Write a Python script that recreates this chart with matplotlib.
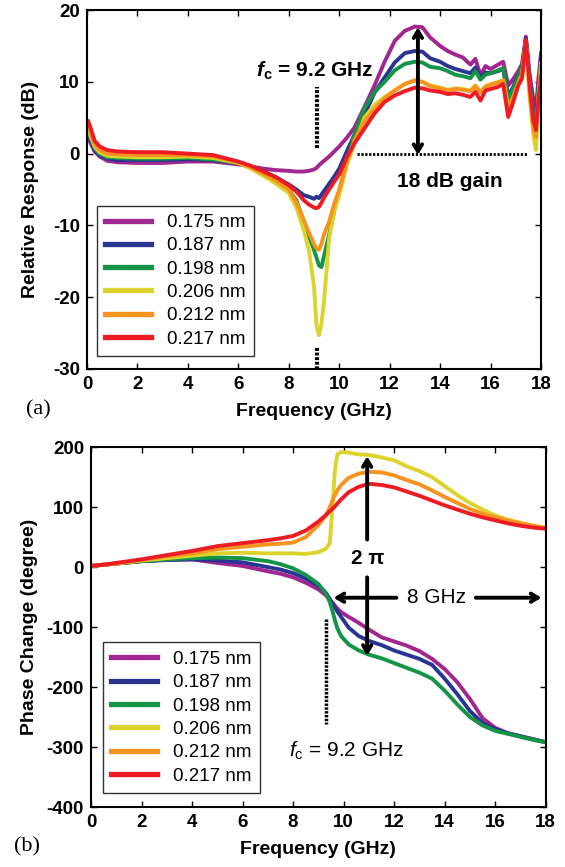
import matplotlib
matplotlib.use("Agg")
import matplotlib.pyplot as plt

plt.rcParams['font.family'] = ['Liberation Sans', 'DejaVu Sans']
plt.rcParams['axes.unicode_minus'] = False
plt.rcParams['mathtext.fontset'] = 'custom'
plt.rcParams['mathtext.rm'] = 'Liberation Sans'
plt.rcParams['mathtext.it'] = 'Liberation Sans:italic'
plt.rcParams['mathtext.bf'] = 'Liberation Sans:bold'
plt.rcParams['mathtext.bfit'] = 'Liberation Sans:italic:bold'

labels = ['0.175 nm', '0.187 nm', '0.198 nm', '0.206 nm', '0.212 nm', '0.217 nm']
colors = ['#A2268F', '#2A3592', '#149447', '#DCD42C', '#F7931E', '#ED1C24']

# ---------------- panel (a): relative response (dB) ----------------
f_top = [0.05, 0.15, 0.3, 0.5, 0.8, 1.2, 2, 3, 4, 5, 6, 6.5, 7, 7.5, 8, 8.3, 8.6, 8.8,
         9.0, 9.1, 9.2, 9.3, 9.4, 9.6, 9.8, 10.0, 10.3, 10.6, 11.0, 11.4, 11.8, 12.2,
         12.6, 13.0, 13.3, 13.6, 14.0, 14.3, 14.6, 14.9, 15.2, 15.4, 15.6, 15.8, 16.0,
         16.3, 16.5, 16.7, 16.9, 17.1, 17.25, 17.4, 17.55, 17.7, 17.8, 17.9, 18.0]

resp_175 = [2.2, 1.4, 0.3, -0.4, -1.0, -1.2, -1.3, -1.3, -1.1, -1.1, -1.5, -1.8, -2.1, -2.3,
            -2.4, -2.5, -2.5, -2.4, -2.2, -2.0, -1.6, -1.3, -1.0, -0.4, 0.3, 1.0, 2.2, 3.6,
            6.5, 9.5, 12.8, 15.7, 17.1, 17.7, 17.6, 16.2, 15.0, 14.3, 13.8, 13.4, 12.4, 13.2,
            10.9, 12.2, 11.8, 12.4, 12.8, 9.5, 10.4, 11.5, 12.5, 16.3, 11.0, 7.5, 6.2, 10.5, 14.0]
resp_187 = [2.8, 1.8, 0.5, -0.2, -0.7, -0.9, -0.9, -0.9, -0.8, -0.9, -1.3, -1.8, -2.5, -3.3,
            -4.3, -5.0, -5.8, -6.0, -6.3, -6.0, -6.2, -5.7, -5.2, -4.2, -3.2, -2.1, 0.3, 2.6,
            5.4, 8.5, 10.6, 12.7, 14.0, 14.3, 14.2, 13.3, 12.8, 12.2, 11.8, 11.5, 11.2, 12.0,
            10.6, 11.3, 11.2, 11.5, 11.8, 8.0, 9.3, 11.0, 12.0, 16.0, 10.5, 6.0, 4.7, 9.5, 13.1]
resp_198 = [3.2, 2.1, 0.8, 0.0, -0.5, -0.6, -0.7, -0.7, -0.6, -0.8, -1.3, -1.9, -2.7, -3.7,
            -5.0, -6.5, -9.5, -11.5, -13.4, -14.5, -15.6, -15.8, -14.2, -11.3, -8.0, -5.2,
            -1.2, 2.6, 6.3, 8.6, 10.0, 11.6, 12.5, 12.8, 12.7, 12.1, 11.9, 11.5, 11.0, 10.8,
            10.5, 11.5, 10.3, 11.0, 11.2, 11.6, 11.9, 7.5, 9.0, 10.8, 12.0, 15.8, 10.0, 5.0,
            3.5, 9.0, 12.6]
resp_206 = [3.6, 2.4, 1.0, 0.2, -0.3, -0.4, -0.5, -0.5, -0.4, -0.6, -1.3, -2.1, -3.1, -4.2,
            -5.5, -7.5, -10.7, -13.5, -18.5, -24.0, -25.3, -23.5, -20.5, -11.8, -8.0, -5.8,
            -1.6, 1.3, 5.0, 6.8, 7.9, 8.8, 9.7, 10.2, 10.0, 9.5, 9.2, 8.9, 9.1, 9.0, 8.8, 9.5,
            8.6, 9.4, 9.7, 10.0, 10.2, 6.5, 7.8, 9.8, 11.0, 15.5, 8.0, 2.5, 0.5, 7.0, 12.5]
resp_212 = [4.0, 2.8, 1.3, 0.5, 0.0, -0.1, -0.2, -0.2, -0.2, -0.4, -1.2, -1.9, -2.8, -3.8,
            -5.0, -6.8, -9.3, -11.0, -12.6, -13.2, -13.4, -12.5, -11.2, -9.5, -7.0, -5.0,
            -1.2, 1.8, 4.5, 6.2, 7.7, 8.8, 9.7, 10.2, 10.0, 9.4, 9.1, 8.8, 9.0, 8.9, 8.7, 9.4,
            8.5, 9.3, 9.6, 9.9, 10.2, 6.1, 7.9, 9.8, 11.0, 15.6, 8.5, 3.5, 2.3, 8.0, 12.3]
resp_217 = [4.5, 3.5, 1.8, 1.0, 0.5, 0.3, 0.2, 0.2, 0.0, -0.2, -1.1, -1.7, -2.5, -3.3,
            -4.4, -5.3, -6.5, -7.1, -7.5, -7.6, -7.4, -6.8, -6.1, -5.0, -3.9, -2.9, -0.5, 1.4,
            3.5, 5.6, 7.2, 8.1, 8.7, 9.2, 9.1, 8.8, 8.6, 8.3, 8.4, 8.2, 7.9, 8.6, 7.4, 8.8,
            9.0, 9.3, 9.7, 5.1, 7.2, 9.5, 10.5, 15.8, 9.5, 4.5, 3.3, 7.5, 10.7]

# ---------------- panel (b): phase change (degree) ----------------
f_bot = [0, 0.5, 1, 2, 3, 4, 5, 6, 7, 7.5, 8, 8.5, 9, 9.3, 9.45, 9.55, 9.65, 9.75, 9.9,
         10.2, 10.6, 11, 11.5, 12, 12.5, 13, 13.5, 14, 14.5, 15, 15.5, 16, 16.5, 17, 17.5, 18]

phase_175 = [2, 4, 6, 10, 12, 13, 7, 2, -7, -11, -17, -26, -37, -47, -55, -59, -64, -69, -75,
             -83, -93, -104, -117, -124, -131, -140, -153, -170, -192, -220, -252, -268, -277,
             -282, -287, -292]
phase_187 = [2, 4, 6, 10, 12, 13, 11, 8, 0, -4, -10, -19, -31, -43, -53, -60, -67, -74, -83,
             -101, -115, -123, -130, -139, -146, -153, -163, -186, -212, -240, -260, -270,
             -277, -282, -287, -292]
phase_198 = [2, 4, 6, 10, 13, 15, 16, 15, 10, 5, -2, -13, -28, -44, -58, -72, -88, -102, -115,
             -129, -139, -146, -152, -160, -168, -176, -186, -206, -229, -250, -264, -273,
             -278, -283, -288, -292]
phase_206 = [2, 4, 6, 11, 15, 19, 23, 24, 23, 23, 23, 22, 25, 31, 40, 95, 160, 188, 192, 191,
             188, 187, 183, 178, 168, 160, 150, 135, 120, 107, 96, 86, 79, 74, 69, 66]
phase_212 = [2, 4, 6, 12, 18, 23, 30, 34, 38, 39, 41, 50, 70, 86, 100, 110, 120, 128, 137,
             149, 156, 159, 158, 153, 145, 138, 128, 117, 107, 97, 89, 83, 78, 73, 69, 65]
phase_217 = [2, 4, 7, 13, 20, 27, 35, 40, 45, 48, 52, 61, 76, 87, 93, 97, 101, 106, 113, 125,
             134, 139, 137, 133, 126, 119, 111, 103, 96, 89, 83, 78, 73, 69, 66, 64]

resp = [resp_175, resp_187, resp_198, resp_206, resp_212, resp_217]
phase = [phase_175, phase_187, phase_198, phase_206, phase_212, phase_217]

fig = plt.figure(figsize=(5.65, 8.67), dpi=100)
ax1 = fig.add_axes([0.154, 0.5744, 0.8035, 0.414])
ax2 = fig.add_axes([0.161, 0.0692, 0.805, 0.415])

LW = 2.8
for vals, c, lab in zip(resp, colors, labels):
    ax1.plot(f_top, vals, color=c, lw=LW, label=lab, solid_joinstyle='round')
for vals, c, lab in zip(phase, colors, labels):
    ax2.plot(f_bot, vals, color=c, lw=LW, label=lab, solid_joinstyle='round')

for ax in (ax1, ax2):
    ax.set_xlim(0, 18)
    ax.set_xticks(range(0, 19, 2))
    ax.tick_params(direction='in', top=True, right=True, length=4, width=1,
                   labelsize=13.5, pad=5)
    for s in ax.spines.values():
        s.set_linewidth(1.5)
    ax.set_xlabel('Frequency (GHz)', fontsize=14, fontweight='bold', labelpad=7)
    leg = ax.legend(loc='lower left', frameon=True, fancybox=False, fontsize=13.5,
                    handlelength=2.45, handletextpad=0.85, labelspacing=0.33,
                    borderpad=0.45, borderaxespad=0,
                    bbox_to_anchor=(0.021, 0.036) if ax is ax1 else (0.026, 0.039))
    leg.get_frame().set_edgecolor('black')
    leg.get_frame().set_linewidth(1.0)
    for line in leg.get_lines():
        line.set_linewidth(3.8)

ax1.set_ylim(-30, 20)
ax1.set_yticks([-30, -20, -10, 0, 10, 20])
ax1.set_ylabel('Relative Response (dB)', fontsize=14, fontweight='bold', labelpad=10)

ax2.set_ylim(-400, 200)
ax2.set_yticks([-400, -300, -200, -100, 0, 100, 200])
ax2.set_ylabel('Phase Change (degree)', fontsize=14, fontweight='bold', labelpad=6)

for ax in (ax1, ax2):
    for lbl in ax.get_xticklabels() + ax.get_yticklabels():
        lbl.set_fontweight('bold')

# annotations panel (a)
ax1.plot([9.13, 9.13], [0.8, 9.3], color='black', lw=3, ls=(0, (0.7, 0.4)))
ax1.plot([9.13, 9.13], [-27.1, -30], color='black', lw=3, ls=(0, (0.7, 0.4)), clip_on=False)
ax1.plot([10.7, 17.5], [0, 0], color='black', lw=2, ls=(0, (0.8, 0.6)))
ax1.text(9.03, 11.6, r'$\mathbfit{f}_{\mathbf{c}}$ = 9.2 GHz', fontsize=15,
         fontweight='bold', ha='center', va='center')
ax1.annotate('', xy=(13.12, 17.6), xytext=(13.12, -0.2),
             arrowprops=dict(arrowstyle='<->,head_length=0.5,head_width=0.3',
                             lw=2.8, color='black', shrinkA=0, shrinkB=0))
ax1.text(14.4, -3.9, '18 dB gain', fontsize=15, fontweight='bold', ha='center', va='center')

# annotations panel (b)
ax2.plot([9.32, 9.32], [-86, -261], color='black', lw=2.5, ls=(0, (0.7, 0.4)))
ax2.text(10.1, -306, r'$f_{\mathrm{c}}$ = 9.2 GHz', fontsize=15, ha='center', va='center')
ax2.annotate('', xy=(10.93, 185), xytext=(10.93, 46),
             arrowprops=dict(arrowstyle='->,head_length=0.5,head_width=0.3',
                             lw=2.8, color='black', shrinkA=0, shrinkB=0))
ax2.annotate('', xy=(10.93, -148), xytext=(10.93, -17),
             arrowprops=dict(arrowstyle='->,head_length=0.5,head_width=0.3',
                             lw=2.8, color='black', shrinkA=0, shrinkB=0))
ax2.text(10.93, 14, '2 π', fontsize=15, fontweight='bold', ha='center', va='center')
ax2.annotate('', xy=(9.6, -51), xytext=(12.09, -51),
             arrowprops=dict(arrowstyle='->,head_length=0.5,head_width=0.3',
                             lw=2.8, color='black', shrinkA=0, shrinkB=0))
ax2.annotate('', xy=(17.83, -51), xytext=(15.23, -51),
             arrowprops=dict(arrowstyle='->,head_length=0.5,head_width=0.3',
                             lw=2.8, color='black', shrinkA=0, shrinkB=0))
ax2.text(13.67, -51, '8 GHz', fontsize=15, ha='center', va='center')

fig.text(38 / 565, 1 - 410 / 867, '(a)', fontsize=16, family='Liberation Serif',
         ha='center', va='center')
fig.text(27 / 565, 1 - 847 / 867, '(b)', fontsize=16, family='Liberation Serif',
         ha='center', va='center')

fig.savefig('out.png', dpi=100)
